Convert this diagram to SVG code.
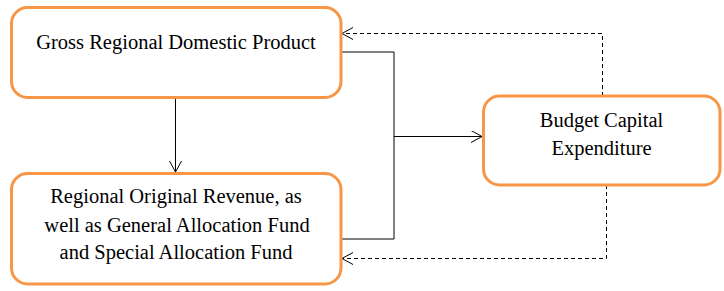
<svg xmlns="http://www.w3.org/2000/svg" width="724" height="291" viewBox="0 0 724 291">
<style>
.node rect{fill:#fff;stroke:#F79646;stroke-width:3}
.node text{font-family:'Liberation Serif','Tinos','Times New Roman','DejaVu Serif',serif;font-size:20.5px;fill:#000;text-anchor:middle}
.c{fill:none;stroke:#000;stroke-width:1}
.d{stroke-dasharray:4 3}
</style>
<defs>
<marker id="a" markerUnits="userSpaceOnUse" markerWidth="14" markerHeight="14" refX="11" refY="6" orient="auto">
<path d="M0,0 L11,6 L0,12" fill="none" stroke="#000" stroke-width="1"/>
</marker>
</defs>
<rect width="724" height="291" fill="#fff"/>
<g id="connectors">
<path class="c" d="M341,52 H394 V239 H341"/>
<path class="c" d="M394,136.5 H482" marker-end="url(#a)"/>
<path class="c" d="M175.5,98 V172" marker-end="url(#a)"/>
<path class="c d" d="M602.5,96 V33.5 H342" marker-end="url(#a)"/>
<path class="c d" d="M606.5,185 V258.5 H342" marker-end="url(#a)"/>
</g>
<g id="gross" class="node">
<rect x="11.5" y="7.5" width="329.5" height="90" rx="16"/>
<text x="176" y="48.5" font-family="Liberation Serif, serif">Gross Regional Domestic Product</text>
</g>
<g id="revenue" class="node">
<rect x="11.5" y="173.5" width="329.5" height="110.5" rx="16"/>
<text x="176" y="203">Regional Original Revenue, as</text>
<text x="177" y="231.5">well as General Allocation Fund</text>
<text x="176" y="259">and Special Allocation Fund</text>
</g>
<g id="budget" class="node">
<rect x="483.5" y="96" width="236.5" height="89" rx="16"/>
<text x="601.5" y="127">Budget Capital</text>
<text x="601.5" y="155">Expenditure</text>
</g>
</svg>
